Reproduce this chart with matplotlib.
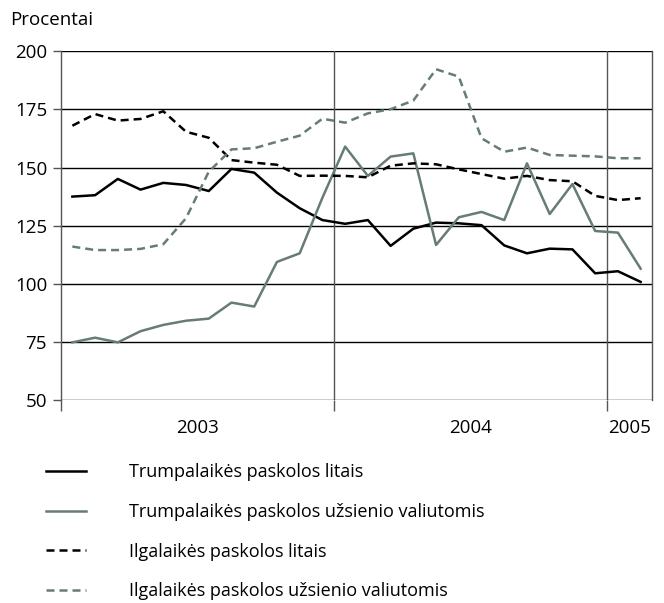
import numpy as np
import matplotlib
matplotlib.use("Agg")
import matplotlib.pyplot as plt

plt.rcParams['font.family'] = ['Open Sans', 'DejaVu Sans']

# monthly data, Jan 2003 - Feb 2005
months = np.arange(26) + 0.5
short_lt = [137.5, 138.1, 145.1, 140.5, 143.4, 142.5, 139.9, 149.4, 147.8, 139.2, 132.5, 127.4,
            125.8, 127.4, 116.3, 123.7, 126.3, 126.0, 125.2, 116.5, 113.1, 115.1, 114.8, 104.5,
            105.4, 100.8]
short_fx = [74.8, 76.8, 74.8, 79.6, 82.3, 84.1, 85.0, 91.9, 90.2, 109.4, 113.1, 137.0,
            159.0, 146.4, 154.7, 156.1, 116.7, 128.6, 130.9, 127.4, 151.8, 130.0, 142.9, 122.7,
            122.0, 106.5]
long_lt = [168.0, 173.0, 170.2, 170.9, 174.2, 165.4, 162.8, 153.2, 152.1, 151.2, 146.4, 146.5,
           146.4, 145.8, 150.8, 151.8, 151.4, 149.2, 147.2, 145.2, 146.4, 144.6, 144.1, 137.8,
           136.0, 136.8]
long_fx = [116.0, 114.5, 114.5, 115.0, 117.0, 128.2, 148.2, 157.8, 158.3, 161.1, 163.7, 171.0,
           169.3, 173.3, 175.1, 178.8, 192.3, 189.1, 162.6, 156.8, 158.6, 155.4, 155.1, 154.8,
           154.0, 154.0]
labels = ['Trumpalaikės paskolos litais',
          'Trumpalaikės paskolos užsienio valiutomis',
          'Ilgalaikės paskolos litais',
          'Ilgalaikės paskolos užsienio valiutomis']
years = ['2003', '2004', '2005']
year_centers = [6, 18, 25]
year_bounds = [12, 24]
y_ticks = [50, 75, 100, 125, 150, 175, 200]

gray = '#667c75'
axis_gray = '#555555'

fig = plt.figure(figsize=(6.64, 6.03), dpi=100)
ax = fig.add_axes([61 / 664, 1 - 400 / 603, (652 - 61) / 664, (400 - 51.3) / 603])

# horizontal grid lines
for y in y_ticks:
    ax.axhline(y, color='black', lw=1.0, zorder=1)
# vertical year separators
for xb in year_bounds:
    ax.axvline(xb, color=axis_gray, lw=1.0, zorder=1)

lw = 1.8
dash = (0, (3.2, 2.0))
ax.plot(months, short_lt, color='black', lw=lw, label=labels[0], zorder=3)
ax.plot(months, short_fx, color=gray, lw=lw, label=labels[1], zorder=3)
ax.plot(months, long_lt, color='black', lw=lw, ls=dash, label=labels[2], zorder=3)
ax.plot(months, long_fx, color=gray, lw=lw, ls=dash, label=labels[3], zorder=3)

ax.set_xlim(0, 26)
ax.set_ylim(50, 200)
ax.set_yticks(y_ticks)
ax.tick_params(axis='y', length=6, width=1.0, color=axis_gray, labelsize=13.5, pad=4)
ax.set_xticks([0] + year_bounds)
ax.set_xticklabels([])
ax.tick_params(axis='x', length=8, width=1.0, color=axis_gray)
ax.set_xticks(year_centers, minor=True)
ax.set_xticklabels(years, minor=True)
ax.tick_params(axis='x', which='minor', length=0, labelsize=13.5, pad=14)

for s in ['left', 'right']:
    ax.spines[s].set_color(axis_gray)
    ax.spines[s].set_linewidth(1.0)
ax.spines['top'].set_visible(False)
ax.spines['bottom'].set_visible(False)

fig.text(10 / 664, 1 - 20 / 603, 'Procentai', fontsize=13.5, va='center', ha='left')

handles, lbls = ax.get_legend_handles_labels()
leg = fig.legend(handles, lbls, loc='upper left', bbox_to_anchor=(39 / 664, 1 - 456 / 603),
                 frameon=False, fontsize=13, handlelength=2.2, handletextpad=2.4,
                 labelspacing=1.2, borderaxespad=0)

fig.savefig('out.png', dpi=100)
